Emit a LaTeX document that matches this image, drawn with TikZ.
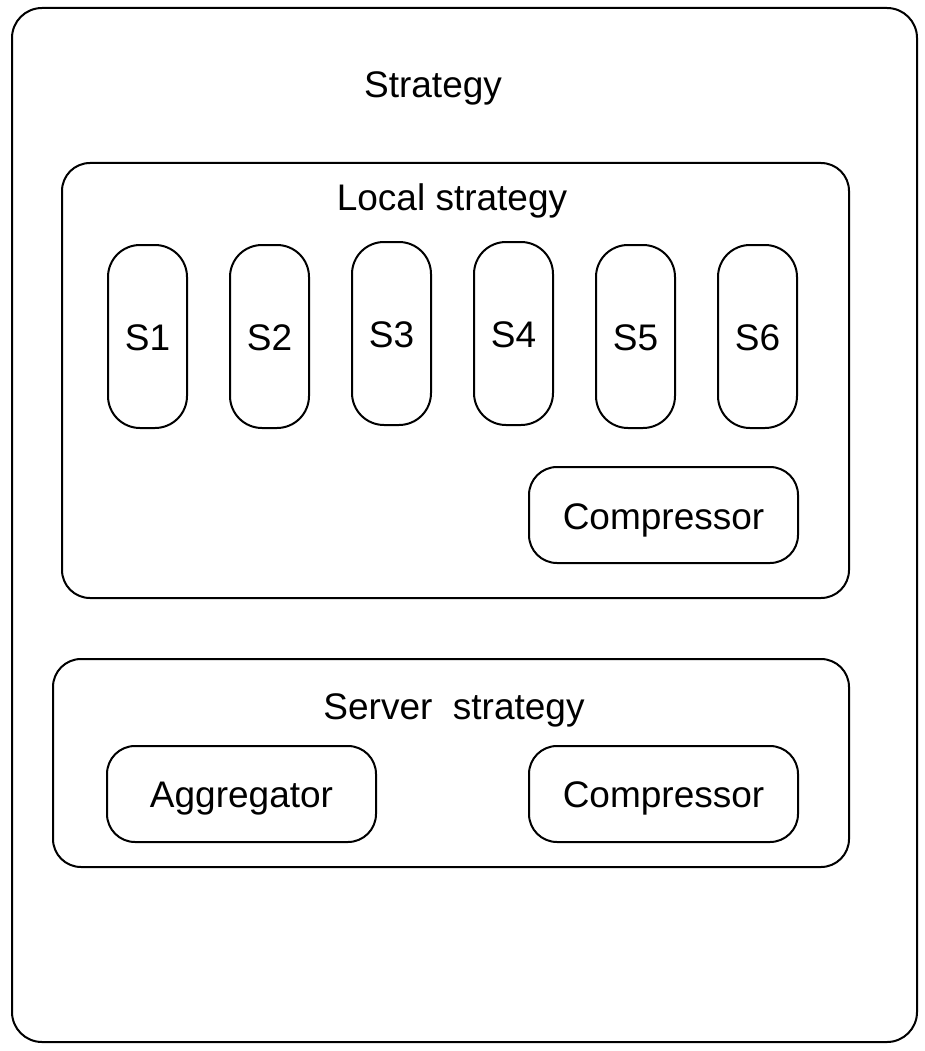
\documentclass[tikz,border=0pt]{standalone}
\usepackage{fontspec}
\setmainfont{Liberation Sans}
\begin{document}
\begin{tikzpicture}[x=1pt,y=-1pt,line width=2pt,
  box/.style={draw=black,rounded corners=#1},
  box/.default=28pt,
  lbl/.style={font=\fontsize{37}{40}\selectfont,inner sep=0pt,anchor=base}]
\useasboundingbox (0,0) rectangle (925,1051);
% outer
\draw[box=30pt] (12,8) rectangle (917,1042);
\node[lbl] (title) at (433,98) {Strategy};
% local strategy
\draw[box] (62,163) rectangle (849,598);
\node[lbl] (local) at (452,210) {Local strategy};
\foreach \n/\x/\y in {1/108/245,2/230/245,3/352/242,4/474/242,5/596/245,6/718/245}{
  \draw[box=32pt] (\x,\y) rectangle ++(79,183);
  \node[lbl] (s\n) at (\x+39.5,\y+105) {S\n};
}
\draw[box] (529,467) rectangle (798,563);
\node[lbl] (comp1) at (663.5,529) {Compressor};
% server strategy
\draw[box] (53,659) rectangle (849,867);
\node[lbl] (server) at (454,719) {Server\ \ strategy};
\draw[box] (107,746) rectangle (376,842);
\node[lbl] (agg) at (241.5,807) {Aggregator};
\draw[box] (529,746) rectangle (798,842);
\node[lbl] (comp2) at (663.5,807) {Compressor};
\end{tikzpicture}
\end{document}
